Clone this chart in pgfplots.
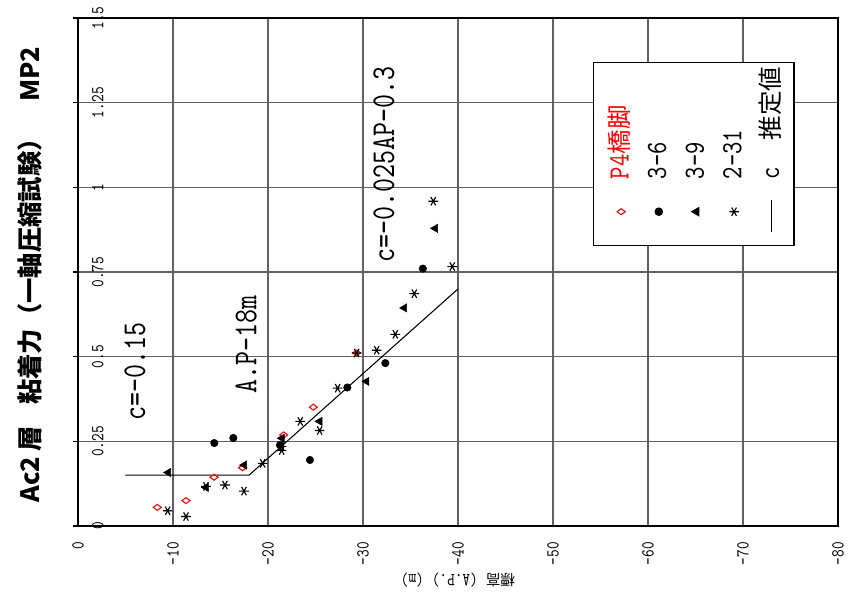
\documentclass[border=0pt]{standalone}
\usepackage{fontspec}
\usepackage{pgfplots}
\pgfplotsset{compat=1.18}
\newfontfamily\cjk{Noto Sans CJK JP}
\newfontfamily\mincho{lmmono10-regular.otf}[FakeStretch=0.8]
\newcommand\tickfont{\mincho\fontsize{13.7}{14}\selectfont}
\newcommand\annfont{\mincho\fontsize{25}{26}\selectfont}
\newcommand\legfont{\mincho\fontsize{22}{24}\selectfont}
\newcommand\jl{\cjk\fontsize{18.4}{22}\selectfont}
% legend keys stand upright: the key sits below its text, which reads upwards
\pgfplotsset{
  legkey/.style={legend image code/.code={%
    \path[draw=none, fill=none] (-15.76pt,-22.5pt) rectangle (9.54pt,0pt);
    \draw[##1] plot coordinates {(0cm,0cm)};
    \node[rotate=90, anchor=west, inner sep=0pt, text height=15pt, text depth=4pt,
      font=\legfont] at (0pt,24pt) {#1};}},
  legline/.style={legend image code/.code={%
    \path[draw=none, fill=none] (-15.76pt,-22.5pt) rectangle (9.54pt,0pt);
    \draw[##1] (0pt,-15pt) -- (0pt,9pt);
    \node[rotate=90, anchor=west, inner sep=0pt, text height=15pt, text depth=4pt,
      font=\legfont] at (0pt,24pt) {#1};}},
}
\begin{document}
\begin{tikzpicture}
\begin{axis}[
  name=ax,
  scale only axis, width=570pt, height=381pt,
  x dir=reverse, xmin=-80, xmax=0, ymin=0, ymax=1.5,
  xtick={-80,-70,-60,-50,-40,-30,-20,-10,0},
  xticklabels={-80,-70,-60,-50,-40,-30,-20,-10,0},
  ytick={0,0.25,0.5,0.75,1,1.25,1.5},
  yticklabels={0,0.25,0.5,0.75,1,1.25,1.5},
  grid=major, major grid style={draw=black!62, line width=0.8pt},
  axis line style={line width=1pt},
  xtick style={draw=none},
  ytick style={black, line width=0.8pt},
  tick align=outside, major tick length=4pt, ytick pos=left,
  xticklabel style={font=\tickfont, yshift=-4.5pt, rotate=90, anchor=east},
  yticklabel style={font=\tickfont, xshift=11pt, rotate=90, anchor=north},
  legend columns=5,
  legend style={at={(axis cs:-64.8,1.098)}, anchor=center,
    draw=black, line width=0.8pt, fill=white,
    inner xsep=5.24pt, inner ysep=3pt, column sep=0.96pt, row sep=0pt,
    nodes={inner sep=0pt}},
]
% estimated cohesion line
\addplot[black, line width=0.8pt, forget plot] coordinates {(-5,0.15) (-18,0.15) (-40,0.7)};

% P4 pier
\addplot[only marks, mark=diamond, mark size=3pt, red, mark options={rotate=90, line width=0.8pt},
  legkey={\color{red}P4{\jl 橋脚}}]
  table {
  x y
  -8.35 0.055
  -11.37 0.075
  -14.32 0.144
  -17.33 0.172
  -21.65 0.269
  -24.77 0.351
  -29.33 0.511
  };
\addlegendentry{\mbox{}}

% borehole 3-6
\addplot[only marks, mark=*, mark size=2.8pt, black, mark options={rotate=90},
  legkey={3-6}]
  table {
  x y
  -14.35 0.245
  -16.35 0.260
  -21.26 0.239
  -24.42 0.195
  -28.35 0.409
  -32.35 0.481
  -36.3 0.760
  };
\addlegendentry{\mbox{}}

% borehole 3-9
\addplot[only marks, mark=triangle*, mark size=3.5pt, black, mark options={rotate=90},
  legkey={3-9}]
  table {
  x y
  -9.5 0.158
  -13.47 0.114
  -17.5 0.180
  -21.47 0.259
  -25.44 0.309
  -30.38 0.427
  -34.35 0.644
  -37.6 0.879
  };
\addlegendentry{\mbox{}}

% borehole 2-31
\addplot[only marks, mark=asterisk, mark size=3.6pt, black, mark options={rotate=90, line width=0.85pt},
  legkey={2-31}]
  table {
  x y
  -9.44 0.045
  -11.37 0.028
  -13.47 0.117
  -15.47 0.121
  -17.47 0.103
  -19.44 0.185
  -21.44 0.223
  -21.44 0.235
  -23.4 0.309
  -25.44 0.282
  -27.33 0.407
  -29.33 0.511
  -31.44 0.519
  -33.4 0.566
  -35.4 0.686
  -37.4 0.959
  -39.4 0.766
  };
\addlegendentry{\mbox{}}

\addlegendimage{black, line width=0.8pt, legline={c\hspace{20pt}{\jl 推定値}}}
\addlegendentry{\mbox{}}

\node[rotate=90, font=\annfont] at (axis cs:-6.0,0.456) {c=-0.15};
\node[rotate=90, font=\annfont] at (axis cs:-17.7,0.536) {A.P-18m};
\node[rotate=90, font=\annfont] at (axis cs:-32.2,1.068) {c=-0.025AP-0.3};
\end{axis}
\node[rotate=90, font={\cjk\bfseries\fontsize{19}{21}\selectfont}] at ([xshift=-36pt,yshift=-2pt]ax.west)
  {Ac2\hspace{4pt}層\hspace{16pt}粘着力（一軸圧縮試験）\hspace{18pt}MP2};
\node[rotate=180, font=\tickfont] at ([yshift=-40.5pt]ax.south)
  {{\cjk\fontsize{11}{12}\selectfont 標高}\hspace{6pt}(A.P.)\hspace{6pt}(m)};
\path ([shift={(-58.5pt,-63.75pt)}]ax.south west) rectangle ([shift={(9pt,13.5pt)}]ax.north east);
\end{tikzpicture}
\end{document}
